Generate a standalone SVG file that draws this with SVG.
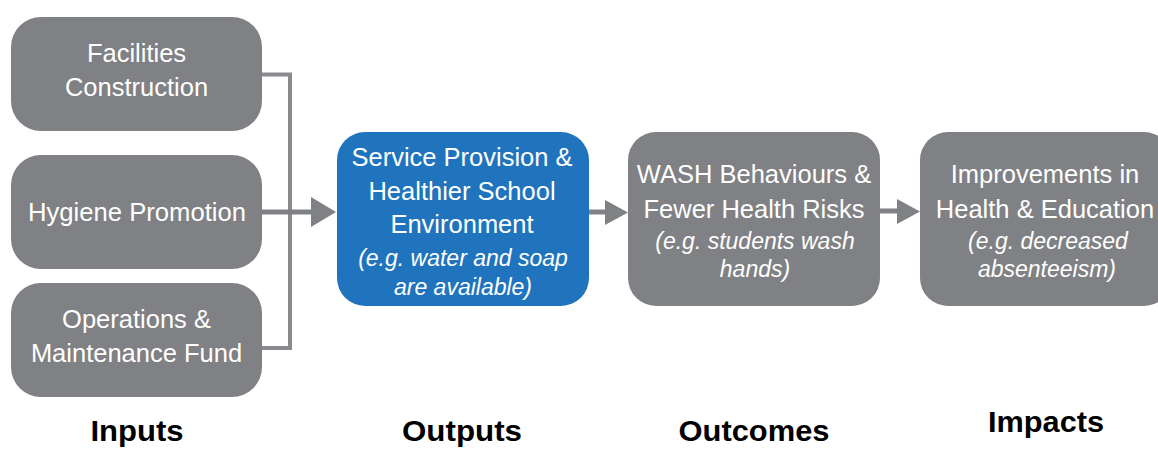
<svg xmlns="http://www.w3.org/2000/svg" width="1158" height="449" viewBox="0 0 1158 449">
<style>
.box{fill:#808184}
.blue{fill:#1f74bd}
.t{font-family:"Liberation Sans",Arial,sans-serif;font-size:25.5px;fill:#ffffff;text-anchor:middle}
.i{font-family:"Liberation Sans",Arial,sans-serif;font-size:23px;font-style:italic;fill:#ffffff;text-anchor:middle}
.lab{font-family:"Liberation Sans",Arial,sans-serif;font-size:29px;font-weight:bold;fill:#000000;text-anchor:middle}
.ln{fill:none;stroke:#8a8b8e;stroke-width:4}
.al{fill:none;stroke:#808184;stroke-width:5}
.ah{fill:#808184}
</style>
<rect width="1158" height="449" fill="#ffffff"/>
<g id="connectors">
<path class="ln" d="M262 74.5 H290 V348 H262"/>
<path class="al" d="M262 212 H312"/>
<polygon class="ah" points="311,197 336,212 311,227"/>
<path class="al" d="M589 212 H606"/>
<polygon class="ah" points="605,200 628,212.5 605,225"/>
<path class="al" d="M880 211 H898"/>
<polygon class="ah" points="897,199 920,211.5 897,224"/>
</g>
<g id="facilities">
<rect class="box" x="11" y="17" width="251" height="114" rx="30"/>
<text class="t" x="136.5" y="62">Facilities</text>
<text class="t" x="136.5" y="96">Construction</text>
</g>
<g id="hygiene">
<rect class="box" x="11" y="155" width="251" height="114" rx="30"/>
<text class="t" x="137" y="221" textLength="218" lengthAdjust="spacingAndGlyphs">Hygiene Promotion</text>
</g>
<g id="operations">
<rect class="box" x="11" y="283" width="251" height="114" rx="30"/>
<text class="t" x="136.5" y="328">Operations &amp;</text>
<text class="t" x="136.5" y="362">Maintenance Fund</text>
</g>
<g id="outputs">
<rect class="blue" x="337" y="132" width="252" height="174" rx="28"/>
<text class="t" x="462" y="166">Service Provision &amp;</text>
<text class="t" x="462" y="200">Healthier School</text>
<text class="t" x="462" y="233">Environment</text>
<text class="i" x="463" y="266">(e.g. water and soap</text>
<text class="i" x="463" y="295">are available)</text>
</g>
<g id="outcomes">
<rect class="box" x="628" y="132" width="252" height="174" rx="28"/>
<text class="t" x="754" y="183">WASH Behaviours &amp;</text>
<text class="t" x="754" y="218">Fewer Health Risks</text>
<text class="i" x="755" y="249">(e.g. students wash</text>
<text class="i" x="755" y="277">hands)</text>
</g>
<g id="impacts">
<rect class="box" x="920" y="132" width="252" height="174" rx="28"/>
<text class="t" x="1045" y="183">Improvements in</text>
<text class="t" x="1045" y="218">Health &amp; Education</text>
<text class="i" x="1048" y="249">(e.g. decreased</text>
<text class="i" x="1047" y="277">absenteeism)</text>
</g>
<g id="labels">
<text class="lab" x="137" y="441" textLength="93" lengthAdjust="spacingAndGlyphs">Inputs</text>
<text class="lab" x="462" y="441" textLength="120" lengthAdjust="spacingAndGlyphs">Outputs</text>
<text class="lab" x="754" y="441" textLength="151" lengthAdjust="spacingAndGlyphs">Outcomes</text>
<text class="lab" x="1046" y="432" textLength="116" lengthAdjust="spacingAndGlyphs">Impacts</text>
</g>
</svg>
